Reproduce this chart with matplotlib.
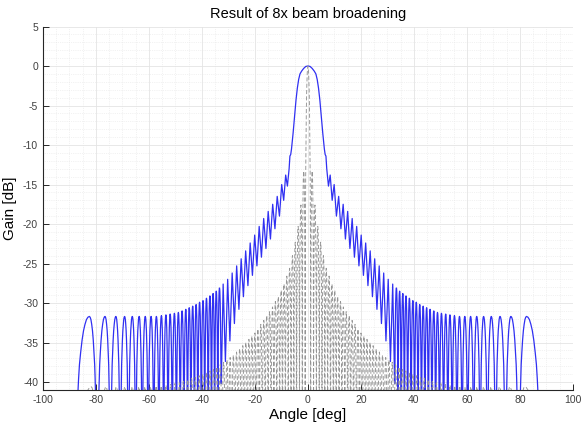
import numpy as np
import matplotlib.pyplot as plt

plt.rcParams['font.family'] = ['Liberation Sans', 'DejaVu Sans']
plt.rcParams['axes.unicode_minus'] = False

# ---- broadened beam (right half, pattern is symmetric) ----
# main lobe
bb_main_ang = [0, 0.8, 1.6, 2.4, 3.0, 3.5, 4.0, 4.5, 5.0, 5.6, 6.2, 6.5, 6.8, 7.1]
bb_main_gain = [0, -0.05, -0.3, -0.65, -1.0, -1.7, -2.8, -4.3, -6.2, -8.5, -10.5, -11.2, -11.4, -13.0]
# close-in ripple: peak angles / peak levels, and the dip level before each peak (+ one after)
bb_rip_ang = [8.4, 9.9, 11.6, 13.3, 15.0, 16.7, 18.4, 20.1, 21.8, 23.5, 25.2, 26.9, 28.6, 30.3, 32.0]
bb_rip_peak = [-13.8, -15.0, -16.5, -17.5, -18.4, -19.3, -20.3, -21.4, -22.4, -23.4,
               -24.4, -25.3, -26.2, -27.0, -27.6]
bb_rip_dip = [-15.2, -17.0, -19.0, -20.6, -21.9, -23.1, -24.2, -25.3, -26.5, -27.8,
              -29.2, -30.8, -32.6, -34.8, -37.4, -40.2]
# far sidelobes (nulls between them)
bb_far_ang = [33.4, 34.6, 35.8, 37.0, 38.3, 39.6, 40.9, 42.2, 43.5, 44.8, 46.1, 47.5,
              48.9, 50.4, 52.0, 53.6, 55.3, 57.2, 59.2, 61.4, 63.7, 66.3, 69.2, 72.5,
              76.6, 82.5]
bb_far_peak = [-28.1, -28.5, -28.8, -29.1, -29.4, -29.7, -29.9, -30.2, -30.4, -30.6,
               -30.8, -31.0, -31.2, -31.3, -31.4, -31.5, -31.6, -31.7, -31.7, -31.7,
               -31.7, -31.7, -31.7, -31.7, -31.7, -31.7]

# ---- original beam (right half) ----
ob_main_ang = [0, 0.25, 0.45, 0.6, 0.75, 0.85, 0.95]
ob_main_gain = [0, -0.8, -2.8, -5.5, -10.0, -14.0, -22.0]
ob_null = 1.06
ob_side_ang = [1.59, 2.65, 3.71, 4.78, 5.84, 6.91, 7.98, 9.05, 10.12, 11.20, 12.29,
               13.37, 14.46, 15.56, 16.67, 17.78, 18.89, 20.02, 21.15, 22.29, 23.44,
               24.60, 25.77, 26.96, 28.15, 29.36, 30.58, 31.82, 33.08, 34.36, 35.65,
               36.96, 38.30, 39.67, 41.06, 42.5, 43.9, 45.4, 47.0, 48.5, 50.2, 51.8,
               53.6, 55.4, 57.3, 59.4, 61.5, 63.8, 66.3, 69.1, 72.3, 76.2, 81.8]
ob_side_peak = [-13.3, -17.6, -20.3, -22.3, -24.0, -25.6, -26.6, -27.6, -28.4, -29.2,
                -29.8, -30.5, -31.1, -31.6, -32.2, -32.7, -33.3, -33.8, -34.2, -34.6,
                -35.0, -35.4, -35.8, -36.2, -36.6, -36.9, -37.2, -37.5, -37.8, -38.1,
                -38.4, -38.6, -38.8, -39.0, -39.2, -39.4, -39.5, -39.7, -39.9, -40.1,
                -40.2, -40.3, -40.4, -40.5, -40.5, -40.6, -40.6, -40.6, -40.6, -40.6,
                -40.6, -40.6, -40.6]

EDGE = 88.0     # outer null of the last lobe
NULL = -60.0

# shape of one sidelobe: position from null (0) to peak (0.5), dB below the peak
LOBE_POS = np.array([0.0, 0.01, 0.02, 0.04, 0.06, 0.08, 0.10, 0.13, 0.16, 0.20,
                     0.25, 0.30, 0.35, 0.40, 0.45, 0.50])
LOBE_DROP = np.array([-60, -30.1, -24.1, -18.0, -14.6, -12.1, -10.2, -7.9, -6.1, -4.6,
                      -3.0, -1.8, -1.0, -0.4, -0.1, 0.0])


def lobe(left, peak_ang, right, peak_gain, floor_l, floor_r):
    s = LOBE_POS * 2
    xl = left + s * (peak_ang - left)
    yl = np.maximum(peak_gain + LOBE_DROP, floor_l)
    xr = peak_ang + (1 - s[::-1]) * (right - peak_ang)
    yr = np.maximum(peak_gain + LOBE_DROP[::-1], floor_r)
    return np.concatenate([xl, xr[1:]]), np.concatenate([yl, yr[1:]])


def lobes(ang, peak, start, start_floor):
    bounds = [start] + [(a + b) / 2 for a, b in zip(ang[:-1], ang[1:])] + [EDGE]
    floors = [start_floor] + [NULL] * len(ang)
    xs, ys = [], []
    for i in range(len(ang)):
        x, y = lobe(bounds[i], ang[i], bounds[i + 1], peak[i], floors[i], floors[i + 1])
        xs.append(x)
        ys.append(y)
    return np.concatenate(xs), np.concatenate(ys)


def mirror(x, y):
    x = np.asarray(x, float)
    y = np.asarray(y, float)
    return np.concatenate([-x[::-1], x[1:]]), np.concatenate([y[::-1], y[1:]])


# broadened beam: main lobe -> ripple zigzag -> far lobes
rip_bounds = ([(bb_main_ang[-1] + bb_rip_ang[0]) / 2]
              + [(a + b) / 2 for a, b in zip(bb_rip_ang[:-1], bb_rip_ang[1:])]
              + [(bb_rip_ang[-1] + bb_far_ang[0]) / 2])
rx, ry = [], []
for i in range(len(bb_rip_ang)):
    rx += [rip_bounds[i], bb_rip_ang[i]]
    ry += [bb_rip_dip[i], bb_rip_peak[i]]
rx.append(rip_bounds[-1])
ry.append(bb_rip_dip[-1])
fx, fy = lobes(bb_far_ang, bb_far_peak, rip_bounds[-1], bb_rip_dip[-1])
bx, by = mirror(np.concatenate([bb_main_ang, rx, fx[1:]]),
                np.concatenate([bb_main_gain, ry, fy[1:]]))

# original beam: main lobe -> sidelobes
sx, sy = lobes(ob_side_ang, ob_side_peak, ob_null, NULL)
ox, oy = mirror(np.concatenate([ob_main_ang, sx]),
                np.concatenate([ob_main_gain, sy]))

fig = plt.figure(figsize=(5.81, 4.28), dpi=100)
ax = fig.add_axes([0.074, 0.089, 0.912, 0.849])

ax.plot(bx, by, color='#3030f2', lw=0.9)
ax.plot(ox, oy, color='#949494', lw=0.65, ls=(0, (4.5, 2.5)))

ax.set_xlim(-100, 100)
ax.set_ylim(-41, 5)
ax.set_xticks(np.arange(-100, 101, 20))
ax.set_yticks(np.arange(-40, 6, 5))
ax.set_xticks(np.arange(-100, 101, 5), minor=True)
ax.set_yticks(np.arange(-41, 6, 1), minor=True)
ax.grid(which='major', color='#e4e4e4', lw=0.6, ls='-')
ax.grid(which='minor', color='#e6e6e6', lw=0.5, ls=':')
ax.set_axisbelow(True)

for side in ['top', 'right']:
    ax.spines[side].set_visible(False)
for side in ['left', 'bottom']:
    ax.spines[side].set_color('#262626')
    ax.spines[side].set_linewidth(0.8)
ax.tick_params(which='major', direction='in', length=4, width=0.7,
               labelsize=7.5, colors='#262626', labelcolor='#404040')
ax.tick_params(which='minor', length=0)

ax.set_title('Result of 8x beam broadening', fontsize=10.5, pad=6)
ax.set_xlabel('Angle [deg]', fontsize=11, labelpad=2)
ax.set_ylabel('Gain [dB]', fontsize=11, labelpad=4)

fig.savefig('out.png', dpi=100)
